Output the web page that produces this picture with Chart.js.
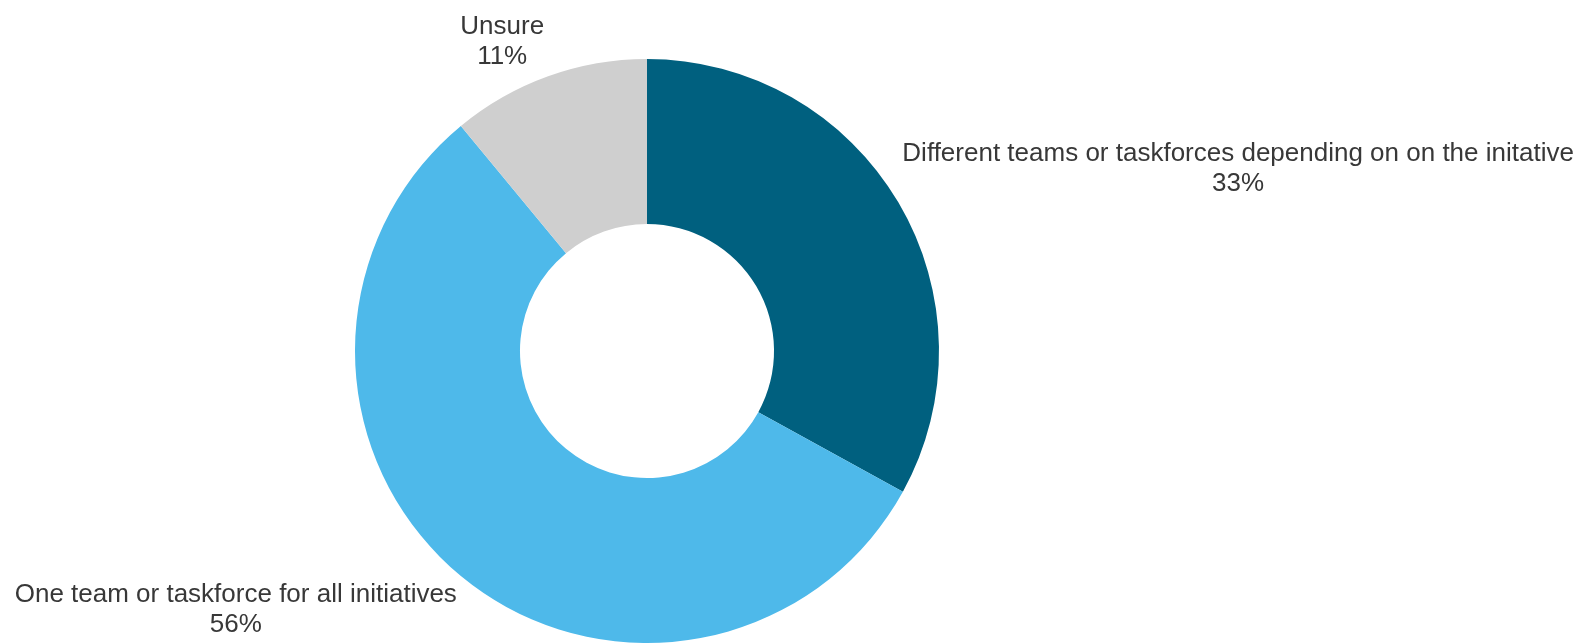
<!DOCTYPE html>
<html>
<head>
<meta charset="utf-8">
<title>Team setup</title>
<script src="https://cdn.jsdelivr.net/npm/chart.js@4/dist/chart.umd.min.js"></script>
<style>
  html, body { margin: 0; padding: 0; background: #fff; }
  canvas { display: block; }
</style>
</head>
<body>
<canvas id="teamChart" width="1579" height="644"></canvas>
<script>
const categories = [
  "Different teams or taskforces depending on on the initative",
  "One team or taskforce for all initiatives",
  "Unsure"
];
const shares = [33, 56, 11];
const sliceColors = ["#00607f", "#4eb9ea", "#cfcfcf"];

// labels sit outside the ring, a corner of the text block touching the slice's mid point
const outsideLabels = {
  id: "outsideLabels",
  afterDatasetsDraw(chart) {
    const ctx = chart.ctx;
    const meta = chart.getDatasetMeta(0);
    const total = shares.reduce((a, b) => a + b, 0);
    const lineH = 30;
    const gap = 4;
    ctx.save();
    ctx.font = "26px 'Liberation Sans', Arial, sans-serif";
    ctx.fillStyle = "#383838";
    ctx.textBaseline = "middle";
    ctx.textAlign = "center";
    meta.data.forEach((arc, i) => {
      const mid = (arc.startAngle + arc.endAngle) / 2;
      const px = arc.x + Math.cos(mid) * arc.outerRadius;
      const py = arc.y + Math.sin(mid) * arc.outerRadius;
      const lines = [categories[i], Math.round(shares[i] / total * 100) + "%"];
      const w = Math.max(...lines.map(t => ctx.measureText(t).width));
      const h = lines.length * lineH;
      const left = px >= arc.x ? px + gap : px - gap - w;
      const top = py < arc.y ? py - gap - h : py + gap;
      lines.forEach((t, k) => {
        ctx.fillText(t, left + w / 2, top + lineH / 2 + k * lineH);
      });
    });
    ctx.restore();
  }
};

new Chart(document.getElementById("teamChart"), {
  type: "doughnut",
  data: {
    labels: categories,
    datasets: [{
      data: shares,
      backgroundColor: sliceColors,
      borderWidth: 0
    }]
  },
  options: {
    responsive: false,
    animation: false,
    cutout: "43.5%",
    layout: {
      padding: { top: 59, bottom: 1, left: 0, right: 285 }
    },
    plugins: {
      legend: { display: false },
      tooltip: { enabled: false }
    }
  },
  plugins: [outsideLabels]
});
</script>
</body>
</html>
